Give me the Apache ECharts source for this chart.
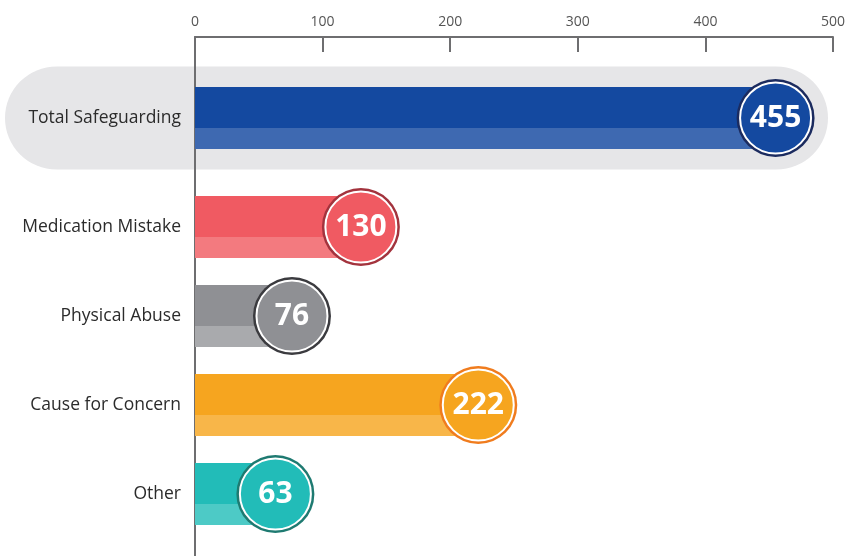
<!DOCTYPE html>
<html><head><meta charset="utf-8">
<script src="https://cdn.jsdelivr.net/npm/echarts@6/dist/echarts.min.js"></script>
<style>html,body{margin:0;padding:0;background:#fff}#c{width:849px;height:556px}</style>
</head><body><div id="c"></div>
<script>
const totalCategories = ['Total Safeguarding'];
const totalValues = [455];
const categories = ['Medication Mistake', 'Physical Abuse', 'Cause for Concern', 'Other'];
const values = [130, 76, 222, 63];
const xTickLabels = ['0', '100', '200', '300', '400', '500'];

const totalPalette = [{dark: '#1449a0', light: '#3e69b1', ring: '#1b2b5f'}];
const palette = [
  {dark: '#f05a62', light: '#f37a7f', ring: '#a3333d'},
  {dark: '#8f9094', light: '#a9aaad', ring: '#3b3b3f'},
  {dark: '#f6a51f', light: '#f8b649', ring: '#f07c1e'},
  {dark: '#22bcb8', light: '#4dcac6', ring: '#1e7a71'}
];

const FONT = '"Open Sans", "Noto Sans", sans-serif';

function grad(p) {
  return {type: 'linear', x: 0, y: 0, x2: 0, y2: 1, colorStops: [
    {offset: 0, color: p.dark}, {offset: 0.66, color: p.dark},
    {offset: 0.66, color: p.light}, {offset: 1, color: p.light}]};
}

function hiddenX(gi) {
  return {gridIndex: gi, type: 'value', min: 0, max: 500, interval: 100, show: false};
}
function catY(gi, data) {
  return {gridIndex: gi, type: 'category', data: data, inverse: true,
    axisLine: {show: false}, axisTick: {show: false},
    axisLabel: {color: '#2b2b2b', fontSize: 17.5, fontFamily: FONT, margin: 14}};
}
function seriesFor(gi, cats, vals, pal) {
  return [
    {type: 'bar', xAxisIndex: gi, yAxisIndex: gi, barWidth: 62, z: 2,
      data: vals.map((v, i) => ({value: v, itemStyle: {color: grad(pal[i])}}))},
    {type: 'scatter', xAxisIndex: gi, yAxisIndex: gi, symbolSize: 78, z: 3,
      data: vals.map((v, i) => ({value: [v, cats[i]], itemStyle: {color: pal[i].ring, opacity: 1}}))},
    {type: 'scatter', xAxisIndex: gi, yAxisIndex: gi, symbolSize: 71, z: 4,
      data: vals.map((v, i) => ({value: [v, cats[i]], itemStyle: {color: pal[i].dark, borderColor: '#ffffff', borderWidth: 2, opacity: 1}})),
      label: {show: true, position: 'inside', formatter: p => p.value[0], color: '#fff',
        fontSize: 30, fontWeight: 'bold', fontFamily: FONT}}
  ];
}

const chart = echarts.init(document.getElementById('c'), null, {renderer: 'canvas'});
chart.setOption({
  animation: false,
  grid: [
    {left: 195, right: 16, top: 37, bottom: 0},
    {left: 195, right: 16, top: 37, height: 162},
    {left: 195, right: 16, top: 182.5, height: 356}
  ],
  xAxis: [
    {gridIndex: 0, type: 'value', position: 'top', min: 0, max: 500, interval: 100,
      axisLine: {show: true, lineStyle: {color: '#6e6e70', width: 2}},
      axisTick: {show: true, inside: true, length: 15, lineStyle: {color: '#6e6e70', width: 2}},
      axisLabel: {color: '#555', fontSize: 14, fontFamily: FONT, margin: 8,
        formatter: (v) => xTickLabels[Math.round(v / 100)]},
      splitLine: {show: false}},
    hiddenX(1), hiddenX(2)
  ],
  yAxis: [
    {gridIndex: 0, type: 'category', data: [], axisLine: {show: true, lineStyle: {color: '#6e6e70', width: 2}},
      axisTick: {show: false}, axisLabel: {show: false}},
    catY(1, totalCategories), catY(2, categories)
  ],
  series: [].concat(seriesFor(1, totalCategories, totalValues, totalPalette),
                    seriesFor(2, categories, values, palette))
});

const cy = chart.convertToPixel({xAxisIndex: 1, yAxisIndex: 1}, [0, totalCategories[0]])[1];
const h = 103;
chart.setOption({graphic: [{type: 'rect', z: -10, silent: true,
  shape: {x: 5, y: cy - h / 2, width: 823, height: h, r: [h / 2, h / 2, h / 2, h / 2]},
  style: {fill: '#e6e6e8'}}]});
</script></body></html>
